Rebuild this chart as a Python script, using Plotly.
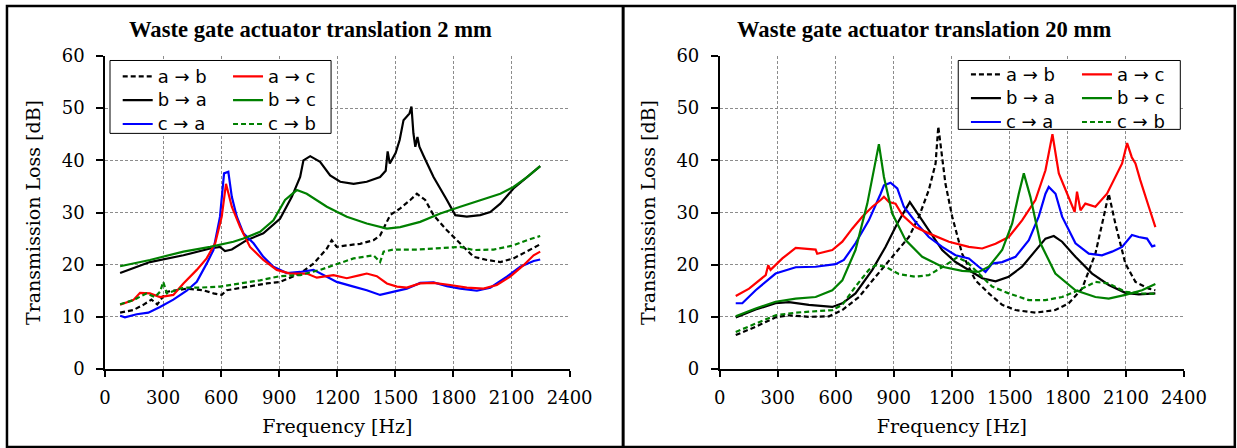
import plotly.graph_objects as go

# ---------------- data: left panel (translation 2 mm) ----------------
L_ab_f = [78, 146, 198, 240, 270, 319, 422, 508, 560, 603, 629, 732, 836, 904, 1008, 1077, 1146, 1171, 1197, 1249, 1318, 1387, 1421, 1473, 1525, 1577, 1611, 1654, 1697, 1766, 1835, 1904, 1973, 2042, 2110, 2180, 2248]
L_ab_v = [10.8, 11.3, 12.3, 13.3, 12.4, 14.8, 15.4, 15.1, 14.5, 14.2, 15.1, 15.8, 16.4, 16.7, 18.3, 20.2, 23.1, 24.7, 23.4, 23.7, 24.0, 24.7, 25.6, 29.5, 30.8, 32.4, 33.6, 32.4, 29.5, 26.6, 24.0, 21.5, 20.9, 20.5, 21.2, 22.5, 23.9]

L_ba_f = [78, 232, 405, 543, 594, 620, 655, 732, 818, 904, 965, 1008, 1025, 1060, 1111, 1163, 1215, 1284, 1352, 1421, 1450, 1460, 1471, 1501, 1522, 1542, 1573, 1583, 1593, 1603, 1614, 1624, 1650, 1697, 1766, 1809, 1869, 1938, 1990, 2042, 2110, 2180, 2248]
L_ba_v = [18.4, 20.5, 21.8, 23.1, 23.4, 22.6, 22.9, 24.7, 26.0, 28.8, 33.0, 36.8, 40.0, 40.8, 39.7, 37.1, 35.9, 35.5, 35.9, 36.8, 38.0, 41.7, 39.4, 41.4, 43.9, 47.7, 49.0, 50.3, 45.2, 42.6, 44.5, 42.6, 40.5, 36.8, 32.4, 29.5, 29.2, 29.5, 30.1, 31.7, 34.6, 36.8, 38.9]

L_ca_f = [78, 103, 164, 224, 284, 353, 422, 474, 525, 560, 594, 615, 637, 655, 681, 715, 767, 818, 870, 939, 1008, 1077, 1146, 1197, 1284, 1352, 1421, 1490, 1559, 1628, 1697, 1766, 1835, 1921, 1990, 2076, 2145, 2214, 2248]
L_ca_v = [10.2, 9.9, 10.5, 10.8, 11.9, 13.3, 15.0, 16.7, 20.2, 22.8, 29.2, 37.5, 37.8, 33.0, 29.2, 26.0, 24.1, 21.5, 19.6, 18.4, 18.6, 19.0, 17.7, 16.7, 15.8, 15.1, 14.2, 14.8, 15.4, 16.5, 16.6, 15.9, 15.4, 15.0, 15.6, 17.7, 19.6, 20.7, 21.0]

L_ac_f = [78, 146, 181, 232, 284, 353, 405, 474, 525, 569, 603, 625, 655, 698, 749, 818, 887, 956, 1042, 1094, 1180, 1249, 1318, 1352, 1404, 1456, 1508, 1559, 1628, 1697, 1783, 1869, 1955, 2024, 2093, 2162, 2214, 2248]
L_ac_v = [12.3, 13.2, 14.6, 14.5, 13.8, 14.2, 16.4, 19.0, 21.2, 24.1, 29.2, 35.5, 31.1, 27.2, 23.4, 20.9, 19.0, 18.3, 18.3, 17.5, 18.0, 17.4, 18.0, 18.3, 17.8, 16.4, 15.8, 15.6, 16.4, 16.5, 16.1, 15.6, 15.4, 16.1, 17.7, 19.9, 21.8, 22.5]

L_bc_f = [78, 232, 405, 543, 663, 715, 801, 870, 930, 991, 1042, 1146, 1249, 1352, 1456, 1525, 1628, 1732, 1835, 1938, 2042, 2110, 2180, 2248]
L_bc_v = [19.7, 20.9, 22.5, 23.4, 24.4, 25.0, 26.3, 28.5, 32.4, 34.3, 33.6, 31.1, 29.2, 27.9, 26.9, 27.2, 28.2, 29.8, 31.1, 32.4, 33.6, 34.9, 36.8, 38.9]

L_cb_f = [78, 146, 215, 258, 284, 301, 319, 405, 491, 594, 698, 801, 904, 1008, 1111, 1180, 1284, 1387, 1421, 1439, 1490, 1611, 1732, 1835, 1904, 2007, 2110, 2180, 2248]
L_cb_v = [12.4, 13.2, 14.5, 13.8, 14.8, 16.7, 14.5, 15.6, 15.6, 15.8, 16.4, 17.0, 17.8, 18.0, 19.0, 19.9, 21.2, 21.8, 20.5, 22.5, 22.9, 22.9, 23.1, 23.4, 22.8, 22.9, 23.7, 24.7, 25.5]

# ---------------- data: right panel (translation 20 mm) ----------------
R_ab_f = [83, 186, 289, 358, 461, 565, 634, 720, 806, 892, 978, 1030, 1081, 1116, 1130, 1167, 1202, 1253, 1322, 1391, 1460, 1529, 1632, 1735, 1804, 1873, 1942, 1985, 2011, 2045, 2097, 2149, 2218, 2252]
R_ab_v = [6.5, 8.1, 9.9, 10.3, 10.0, 10.1, 11.3, 13.8, 17.7, 21.5, 25.3, 29.2, 34.3, 39.4, 46.5, 35.5, 29.2, 22.1, 17.0, 14.5, 12.3, 11.3, 10.8, 11.3, 12.6, 15.4, 22.1, 29.2, 33.6, 27.9, 20.2, 16.7, 15.4, 15.1]

R_ba_f = [83, 186, 289, 358, 461, 582, 634, 702, 789, 857, 918, 961, 983, 1012, 1081, 1150, 1219, 1288, 1357, 1426, 1494, 1563, 1632, 1684, 1727, 1770, 1839, 1925, 2011, 2097, 2166, 2252]
R_ba_v = [9.9, 11.4, 12.6, 12.8, 12.3, 11.9, 12.6, 14.5, 19.0, 23.4, 27.9, 30.8, 32.0, 30.4, 26.6, 22.8, 20.5, 19.0, 17.4, 16.8, 17.7, 19.6, 22.8, 25.0, 25.5, 24.4, 21.5, 18.3, 16.1, 14.6, 14.3, 14.5]

R_ca_f = [83, 117, 186, 289, 393, 496, 599, 642, 702, 771, 832, 849, 883, 918, 952, 1012, 1081, 1150, 1219, 1288, 1339, 1374, 1408, 1460, 1529, 1598, 1649, 1684, 1701, 1736, 1770, 1839, 1908, 1976, 2028, 2080, 2131, 2166, 2209, 2235, 2252]
R_ca_v = [12.6, 12.6, 15.1, 18.3, 19.5, 19.6, 20.1, 20.9, 24.1, 28.5, 33.6, 35.2, 35.7, 34.6, 31.1, 28.2, 25.3, 23.4, 21.8, 21.2, 19.6, 18.6, 20.2, 20.5, 21.5, 24.7, 29.2, 33.6, 34.9, 33.6, 29.2, 24.1, 22.1, 21.8, 22.5, 23.4, 25.7, 25.3, 25.0, 23.5, 23.7]

R_ac_f = [83, 152, 238, 251, 263, 324, 393, 496, 504, 582, 634, 685, 737, 789, 832, 849, 875, 909, 944, 1012, 1081, 1185, 1288, 1357, 1426, 1494, 1563, 1632, 1684, 1720, 1753, 1804, 1835, 1847, 1865, 1890, 1942, 2002, 2045, 2080, 2106, 2130, 2149, 2174, 2218, 2252]
R_ac_v = [14.0, 15.4, 18.0, 19.9, 19.0, 21.2, 23.2, 22.9, 22.1, 22.8, 24.4, 26.9, 29.2, 31.1, 32.4, 33.0, 32.0, 31.7, 29.5, 27.2, 26.0, 24.4, 23.4, 23.1, 24.0, 25.3, 28.5, 32.4, 38.1, 45.0, 37.5, 33.0, 30.1, 34.0, 30.4, 31.7, 31.1, 33.6, 36.8, 39.4, 43.3, 40.6, 39.4, 36.2, 31.1, 27.2]

R_bc_f = [83, 186, 289, 393, 496, 582, 634, 702, 763, 802, 823, 849, 892, 961, 1047, 1150, 1253, 1339, 1391, 1460, 1512, 1546, 1572, 1606, 1658, 1735, 1839, 1942, 2011, 2097, 2183, 2252]
R_bc_v = [10.1, 11.6, 12.9, 13.5, 13.8, 15.1, 17.0, 22.8, 31.7, 38.7, 43.1, 36.8, 29.8, 24.7, 21.5, 19.6, 18.8, 18.6, 19.6, 22.8, 27.9, 33.6, 37.5, 33.0, 24.1, 18.3, 15.1, 13.8, 13.5, 14.2, 15.1, 16.3]

R_cb_f = [83, 186, 289, 393, 496, 582, 634, 702, 771, 806, 857, 926, 1012, 1081, 1167, 1228, 1279, 1339, 1408, 1494, 1598, 1684, 1770, 1856, 1942, 2011, 2097, 2183, 2252]
R_cb_v = [7.1, 8.7, 10.3, 10.8, 11.1, 11.3, 12.3, 15.8, 19.0, 19.9, 19.6, 18.2, 17.7, 18.0, 19.9, 21.4, 20.5, 18.3, 15.8, 14.5, 13.2, 13.2, 13.8, 15.1, 16.7, 16.4, 14.8, 14.5, 14.4]

titles = ["Waste gate actuator translation 2 mm", "Waste gate actuator translation 20 mm"]
x_ticks = [0, 300, 600, 900, 1200, 1500, 1800, 2100, 2400]
y_ticks = [0, 10, 20, 30, 40, 50, 60]

# ---------------- layout geometry (pixels) ----------------
W, H = 1237, 448
ML, MR, MT, MB = 105, 53.3, 55.5, 79
GW = W - ML - MR
GH = H - MT - MB


def px(x):
    return (x - ML) / GW


def py(y):
    return (H - MB - y) / GH


ARROW = "\u2192"
BLACK, RED, BLUE, GREEN = "#000000", "#ff0000", "#0000ff", "#008000"
DASH = "5px,3px"


def label(a, b):
    return f'<span style="font-size:18px">{a} {ARROW} {b}</span>'


series = [
    # (panel, legend, name, f, v, color, dash)
    (1, "legend", label("a", "b"), L_ab_f, L_ab_v, BLACK, DASH),
    (1, "legend", label("b", "a"), L_ba_f, L_ba_v, BLACK, "solid"),
    (1, "legend", label("c", "a"), L_ca_f, L_ca_v, BLUE, "solid"),
    (1, "legend2", label("a", "c"), L_ac_f, L_ac_v, RED, "solid"),
    (1, "legend2", label("b", "c"), L_bc_f, L_bc_v, GREEN, "solid"),
    (1, "legend2", label("c", "b"), L_cb_f, L_cb_v, GREEN, DASH),
    (2, "legend3", label("a", "b"), R_ab_f, R_ab_v, BLACK, DASH),
    (2, "legend3", label("b", "a"), R_ba_f, R_ba_v, BLACK, "solid"),
    (2, "legend3", label("c", "a"), R_ca_f, R_ca_v, BLUE, "solid"),
    (2, "legend4", label("a", "c"), R_ac_f, R_ac_v, RED, "solid"),
    (2, "legend4", label("b", "c"), R_bc_f, R_bc_v, GREEN, "solid"),
    (2, "legend4", label("c", "b"), R_cb_f, R_cb_v, GREEN, DASH),
]

fig = go.Figure()
for panel, leg, name, f, v, color, dash in series:
    fig.add_trace(go.Scatter(
        x=f, y=v, mode="lines", name=name, legend=leg,
        xaxis="x" if panel == 1 else "x2",
        yaxis="y" if panel == 1 else "y2",
        line=dict(color=color, width=2.2, dash=dash),
        hoverinfo="skip",
    ))

SERIF = "DejaVu Serif"
tickfont = dict(family=SERIF, size=18, color="black")
titlefont = dict(family=SERIF, size=19, color="black")

xcommon = dict(
    range=[0, 2400], tickmode="array", tickvals=x_ticks,
    showgrid=True, gridcolor="#8c8c8c", gridwidth=1, griddash="3px,2px",
    showline=True, linecolor="black", linewidth=1.5,
    ticks="outside", ticklen=6, tickwidth=1.5, tickcolor="black",
    zeroline=False, tickfont=tickfont, ticklabelstandoff=6,
    title=dict(text="Frequency [Hz]", font=titlefont, standoff=12),
)
ycommon = dict(
    range=[0, 60], tickmode="array", tickvals=y_ticks,
    showgrid=True, gridcolor="#8c8c8c", gridwidth=1, griddash="3px,2px",
    showline=True, linecolor="black", linewidth=1.5,
    ticks="outside", ticklen=7, tickwidth=1.5, tickcolor="black",
    zeroline=False, tickfont=tickfont, ticklabelstandoff=8,
    title=dict(text="Transmission Loss [dB]", font=titlefont, standoff=16),
)

legfont = dict(family="DejaVu Sans", size=16, color="black")


def legend_at(xpix, ypix):
    return dict(
        x=px(xpix), y=py(ypix), xanchor="left", yanchor="top",
        orientation="v", bgcolor="rgba(0,0,0,0)", borderwidth=0,
        font=legfont, traceorder="normal", itemclick=False,
    )


shapes = [
    # legend boxes
    dict(type="rect", xref="paper", yref="paper",
         x0=px(110), x1=px(331), y0=py(133), y1=py(60),
         fillcolor="white", line=dict(color="black", width=1), layer="above"),
    dict(type="rect", xref="paper", yref="paper",
         x0=px(958), x1=px(1180), y0=py(129), y1=py(60),
         fillcolor="white", line=dict(color="black", width=1), layer="above"),
    # panel frames
    dict(type="rect", xref="paper", yref="paper",
         x0=px(7), x1=px(1234.5), y0=py(447), y1=py(5.5),
         line=dict(color="black", width=2.5), fillcolor="rgba(0,0,0,0)", layer="above"),
    dict(type="line", xref="paper", yref="paper",
         x0=px(623), x1=px(623), y0=py(447), y1=py(5.5),
         line=dict(color="black", width=3), layer="above"),
]

annotations = [
    dict(text=f"<b>{titles[0]}</b>", xref="paper", yref="paper",
         x=px(310), y=py(29), xanchor="center", yanchor="middle", showarrow=False,
         font=dict(family="Liberation Serif", size=22.6, color="black")),
    dict(text=f"<b>{titles[1]}</b>", xref="paper", yref="paper",
         x=px(924), y=py(29), xanchor="center", yanchor="middle", showarrow=False,
         font=dict(family="Liberation Serif", size=22.6, color="black")),
]

fig.update_layout(
    width=W, height=H,
    margin=dict(l=ML, r=MR, t=MT, b=MB, autoexpand=False),
    paper_bgcolor="white", plot_bgcolor="white",
    xaxis=dict(domain=[0, px(569.5)], anchor="y", **xcommon),
    yaxis=dict(domain=[0, 1], anchor="x", **ycommon),
    xaxis2=dict(domain=[px(719.5), 1], anchor="y2", **xcommon),
    yaxis2=dict(domain=[0, 1], anchor="x2", **ycommon),
    legend=legend_at(117.7, 59),
    legend2=legend_at(228, 59),
    legend3=legend_at(965.7, 57),
    legend4=legend_at(1076.7, 57),
    shapes=shapes,
    annotations=annotations,
    showlegend=True,
)

fig.write_html(
    "out.html",
    config={"displayModeBar": False},
    post_script="document.body.style.margin='0';document.body.style.overflow='hidden';",
)
